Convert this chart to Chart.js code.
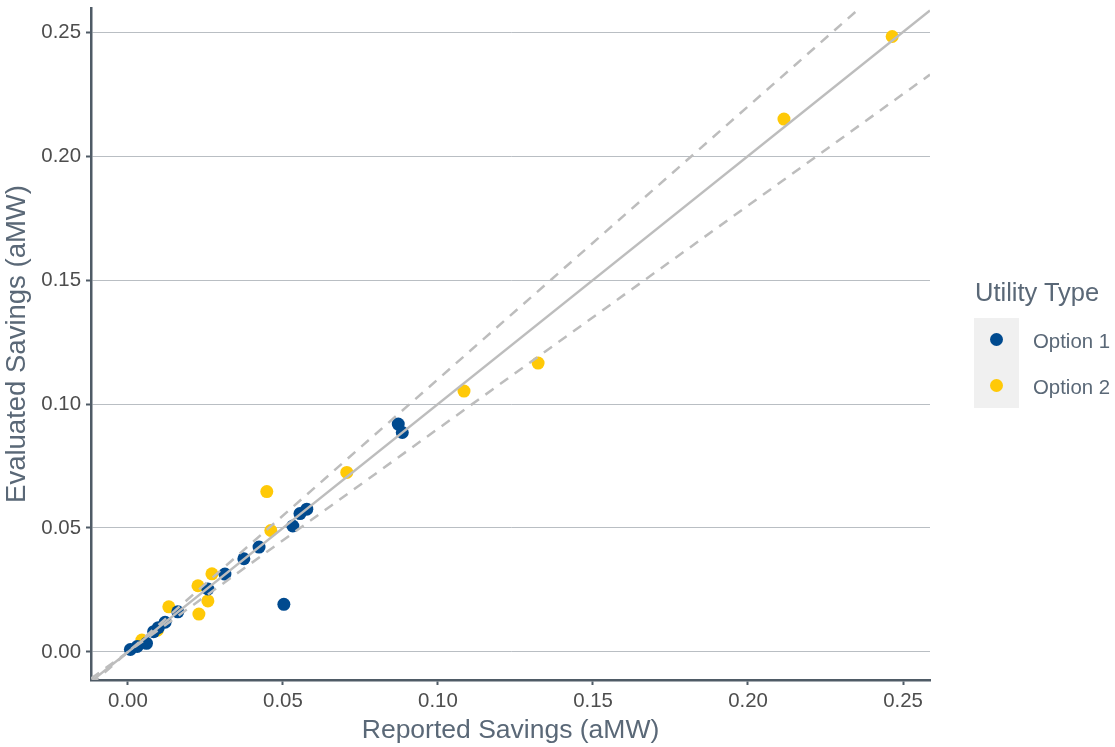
<!DOCTYPE html>
<html>
<head>
<meta charset="utf-8">
<script src="https://cdn.jsdelivr.net/npm/chart.js@4"></script>
<style>
  body { margin: 0; background: #fff; font-family: "Liberation Sans", Arial, sans-serif; }
  #wrap { position: relative; width: 1115px; height: 747px; }
  #legend { position: absolute; left: 974px; top: 276px; color: #5a6877; }
  #legend .ttl { font-size: 25.5px; line-height: 32px; margin-left: 1px; }
  #legend .keys { position: absolute; left: 0; top: 42px; width: 45px; height: 90px; background: #f0f0f0; }
  #legend .dot { position: absolute; left: 16px; width: 13px; height: 13px; border-radius: 50%; }
  #legend .lbl { position: absolute; left: 59px; font-size: 20.4px; white-space: nowrap; line-height: 24px; }
</style>
</head>
<body>
<div id="wrap">
  <canvas id="chart" width="1115" height="747"></canvas>
  <div id="legend">
    <div class="ttl">Utility Type</div>
    <div class="keys">
      <div class="dot" style="top:15px;background:#004a8f"></div>
      <div class="dot" style="top:61px;background:#ffc907"></div>
    </div>
    <div class="lbl" style="top:53px">Option 1</div>
    <div class="lbl" style="top:99px">Option 2</div>
  </div>
</div>
<script>
// reported (x) vs evaluated (y) savings, aMW
const option1X = [0.0008, 0.003, 0.006, 0.0083, 0.0098, 0.012, 0.0161, 0.0258, 0.0313, 0.0374, 0.0423, 0.0532, 0.0555, 0.0577, 0.0503, 0.0872, 0.0885];
const option1Y = [0.001, 0.0022, 0.0035, 0.0082, 0.0098, 0.012, 0.0162, 0.0254, 0.0314, 0.0376, 0.0423, 0.0508, 0.0558, 0.0576, 0.0192, 0.0919, 0.0885];
const option2X = [0.0045, 0.0095, 0.0132, 0.0229, 0.0226, 0.0258, 0.0271, 0.0461, 0.0448, 0.0706, 0.1084, 0.1323, 0.2116, 0.2465];
const option2Y = [0.0048, 0.0088, 0.0182, 0.0153, 0.0267, 0.0206, 0.0315, 0.049, 0.0647, 0.0724, 0.1052, 0.1165, 0.2149, 0.2482];

const tickValues = [0, 0.05, 0.10, 0.15, 0.20, 0.25];
const tickLabels = ["0.00", "0.05", "0.10", "0.15", "0.20", "0.25"];

// reference lines: 1:1 and +/-10%
const refSlopes = [1, 1.1, 0.9];
const refDashed = [false, true, true];

const xRange = [-0.0119, 0.2587];
const yRange = [-0.0113, 0.2597];

const axisColor = "#4f5b66";
const titleColor = "#5a6877";
const tickColor = "#4d4d4d";

function toPoints(xs, ys) {
  return xs.map((x, i) => ({ x: x, y: ys[i] }));
}

const datasets = [];
refSlopes.forEach((s, i) => {
  datasets.push({
    type: "line",
    data: xRange.map(x => ({ x: x, y: x * s })),
    borderColor: "#bdbdbd",
    borderWidth: 2.5,
    borderDash: refDashed[i] ? [10, 8] : [],
    pointRadius: 0,
    fill: false,
    clip: 0,
    order: 0
  });
});
datasets.push({
  label: "Option 2",
  data: toPoints(option2X, option2Y),
  backgroundColor: "#ffc907",
  borderWidth: 0,
  pointRadius: 6.5,
  order: 2
});
datasets.push({
  label: "Option 1",
  data: toPoints(option1X, option1Y),
  backgroundColor: "#004a8f",
  borderWidth: 0,
  pointRadius: 6.5,
  order: 1
});

function setTicks(scale) {
  scale.ticks = tickValues.map(v => ({ value: v }));
}

const ctx = document.getElementById("chart").getContext("2d");
const chart = new Chart(ctx, {
  type: "scatter",
  data: { datasets: datasets },
  options: {
    responsive: false,
    animation: false,
    events: [],
    layout: { padding: { top: 8, right: 185, left: 0, bottom: 0 } },
    plugins: { legend: { display: false }, tooltip: { enabled: false } },
    scales: {
      x: {
        type: "linear",
        min: xRange[0],
        max: xRange[1],
        afterBuildTicks: setTicks,
        afterFit: (s) => { s.height = 67; s.paddingLeft = 0; s.paddingRight = 0; },
        border: { display: true, color: axisColor, width: 2.5 },
        grid: { display: true, drawOnChartArea: false, drawTicks: true, tickLength: 5, tickColor: axisColor, tickWidth: 2 },
        ticks: {
          padding: 4,
          color: tickColor,
          font: { family: "Liberation Sans", size: 20.4 },
          callback: (v, i) => tickLabels[i]
        },
        title: {
          display: true,
          text: "Reported Savings (aMW)",
          color: titleColor,
          font: { family: "Liberation Sans", size: 26.5 },
          padding: { top: 0, bottom: 0 }
        }
      },
      y: {
        type: "linear",
        min: yRange[0],
        max: yRange[1],
        afterBuildTicks: setTicks,
        afterFit: (s) => { s.width = 91; s.paddingTop = 0; s.paddingBottom = 0; },
        border: { display: true, color: axisColor, width: 2.5 },
        grid: { display: true, drawOnChartArea: true, color: "#b9bec3", lineWidth: 1, drawTicks: true, tickLength: 5, tickColor: axisColor, tickWidth: 2 },
        ticks: {
          padding: 5,
          color: tickColor,
          font: { family: "Liberation Sans", size: 20.4 },
          callback: (v, i) => tickLabels[i]
        },
        title: {
          display: true,
          text: "Evaluated Savings (aMW)",
          color: titleColor,
          font: { family: "Liberation Sans", size: 27.5 },
          padding: { top: 1, bottom: 0 }
        }
      }
    }
  }
});
</script>
</body>
</html>
